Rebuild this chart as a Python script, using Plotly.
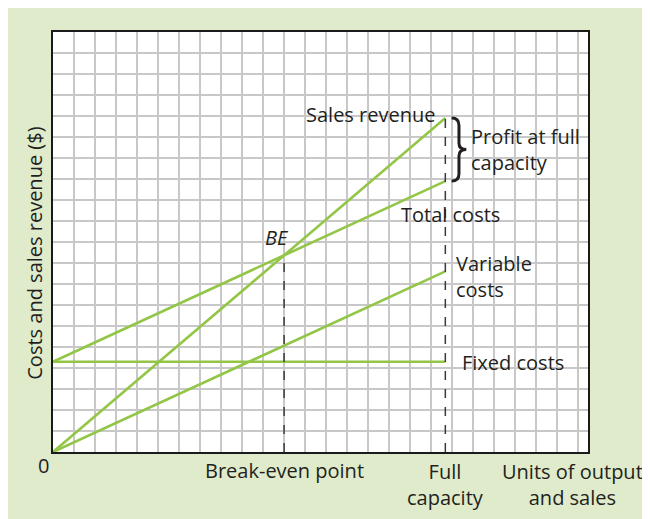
import plotly.graph_objects as go

# ---- data (grid units) ----
full_capacity = 18.7          # units of output at full capacity
fixed_costs = 4.3             # fixed costs ($)
variable_costs_at_capacity = 8.6
sales_revenue_at_capacity = 15.9

output_points = [0, full_capacity]
sales_revenue = [0, sales_revenue_at_capacity]
variable_costs = [0, variable_costs_at_capacity]
fixed_cost_line = [fixed_costs, fixed_costs]
total_costs = [fixed_costs, fixed_costs + variable_costs_at_capacity]

# break-even point derived from the lines
s_slope = sales_revenue_at_capacity / full_capacity
v_slope = variable_costs_at_capacity / full_capacity
be_x = fixed_costs / (s_slope - v_slope)
be_y = s_slope * be_x

GREEN = "#93C647"
TEXT = "#231F20"
FONT = "Open Sans"
FS = 20

fig = go.Figure()
for ys in (fixed_cost_line, variable_costs, total_costs, sales_revenue):
    fig.add_trace(go.Scatter(x=output_points, y=ys, mode="lines",
                             line=dict(color=GREEN, width=2.6),
                             hoverinfo="skip", showlegend=False, cliponaxis=False))

# dashed drop lines
fig.add_trace(go.Scatter(x=[be_x, be_x], y=[0, be_y], mode="lines",
                         line=dict(color="#3a3a3a", width=1.5, dash="dash"),
                         showlegend=False, hoverinfo="skip"))
fig.add_trace(go.Scatter(x=[full_capacity, full_capacity], y=[0, sales_revenue_at_capacity], mode="lines",
                         line=dict(color="#3a3a3a", width=1.5, dash="dash"),
                         showlegend=False, hoverinfo="skip"))

# brace
bx0, bx1, bx2 = 19.0, 19.35, 19.7
top, bot = sales_revenue_at_capacity, fixed_costs + variable_costs_at_capacity
mid = (top + bot) / 2
brace = (f"M {bx0},{top} Q {bx1},{top} {bx1},{top-0.35} L {bx1},{mid+0.3} "
         f"Q {bx1},{mid} {bx2},{mid} Q {bx1},{mid} {bx1},{mid-0.3} "
         f"L {bx1},{bot+0.35} Q {bx1},{bot} {bx0},{bot}")
fig.add_shape(type="path", path=brace, xref="x", yref="y",
              line=dict(color=TEXT, width=3))

def ann(text, x, y, xanchor="left", italic=False, size=FS, xref="x", yref="y"):
    fig.add_annotation(x=x, y=y, text=(f"<i>{text}</i>" if italic else text),
                       xref=xref, yref=yref, showarrow=False, xanchor=xanchor,
                       yanchor="middle", align="left" if xanchor == "left" else "center",
                       font=dict(family=FONT, size=size, color=TEXT))

ann("Sales revenue", 18.3, 16.05, xanchor="right")
ann("Profit at full<br>capacity", 19.85, 14.42)
ann("Total costs", 16.5, 11.3)
ann("Variable<br>costs", 19.1, 8.35)
ann("Fixed costs", 19.4, 4.25)
ann("BE", be_x - 0.35, 10.2, xanchor="center", italic=True)
ann("0", -0.017, -0.031, xanchor="center", xref="paper", yref="paper")
ann("Break-even point", be_x, -0.045, xanchor="center", yref="paper")
ann("Full<br>capacity", full_capacity, -0.077, xanchor="center", yref="paper")
ann("Units of output<br>and sales", 24.75, -0.077, xanchor="center", yref="paper")

fig.add_annotation(text="Costs and sales revenue ($)", xref="paper", yref="paper",
                   x=-0.034, y=0.474, textangle=-90, showarrow=False,
                   xanchor="center", yanchor="middle",
                   font=dict(family=FONT, size=20, color=TEXT))

axis_common = dict(showgrid=True, gridcolor="#C8C8C8", gridwidth=1.5, dtick=1,
                   showline=True, linecolor="#1a1a1a", linewidth=2, mirror=True,
                   zeroline=False, showticklabels=False, ticks="", fixedrange=True)
fig.update_xaxes(range=[0, 25.5], tick0=0, **axis_common)
fig.update_yaxes(range=[0, 20], tick0=0, **axis_common)

fig.update_layout(width=642, height=511,
                  margin=dict(l=45, r=62, t=24, b=67),
                  paper_bgcolor="#DFEBCA", plot_bgcolor="white",
                  showlegend=False)

fig.write_html("out.html")
